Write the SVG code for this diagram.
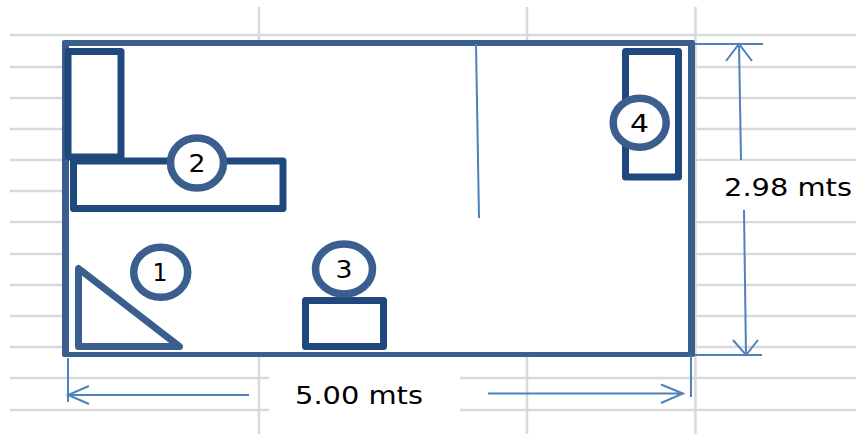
<svg xmlns="http://www.w3.org/2000/svg" width="856" height="434" viewBox="0 0 856 434">
<style>
.grid{stroke:#d9d9d9;stroke-width:2.5;fill:none}
.room{fill:#3a5f8f;fill-rule:evenodd}
.dark{fill:#fff;stroke:#1f497d;stroke-linejoin:round}
.badge{fill:#fff;stroke:#3a5f8f;stroke-width:7.500}
.dim{stroke:#4f81bd;stroke-width:2;fill:none}
.num{font-family:"DejaVu Sans",sans-serif;font-size:25px;fill:#000;text-anchor:middle}
.lbl{font-family:"DejaVu Sans",sans-serif;font-size:25px;fill:#000}
</style>
<rect width="856" height="434" fill="#fff"/>
<g id="grid">
<path class="grid" d="M10 35H856M10 67H856M10 98H856M10 129H856M10 160H856M10 191H856M10 222H856M10 254H856M10 285H856M10 316H856M10 347H856M10 378H856M10 410H856"/>
<path class="grid" d="M259 7V434M527 7V434M695.500 7V434"/>
<rect x="269" y="358" width="191" height="76" fill="#fff"/>
<rect x="697" y="161" width="159" height="60" fill="#fff"/>
</g>
<g id="room">
<rect x="69" y="45" width="619" height="307" fill="#fff"/>
<path class="room" d="M64 40H693Q695 40 695 42V355Q695 357 693 357H64Q62 357 62 355V42Q62 40 64 40ZM69 46V352H688V46Z"/>
</g>
<line id="partition" class="dim" x1="476" y1="44" x2="479" y2="218"/>
<g id="connectors">
<path class="dim" d="M695 44H763M695 355H762M68 358V402M691 355V397"/>
<path class="dim" d="M739 44L741 160M744 210L746 355M726 61L739 44L752 61M733 340L746 355L758 340"/>
<path class="dim" d="M68 395H249M89 386L68 395L89 404M488 393.500H683M661 384.500L683 393.500L661 403"/>
</g>
<g id="node-2-furniture">
<rect class="dark" x="73.500" y="161" width="209.500" height="47.500" stroke-width="7"/>
<rect class="dark" x="68" y="51.500" width="53" height="105.500" stroke-width="7"/>
</g>
<g id="node-2">
<ellipse class="badge" cx="197" cy="163" rx="26.500" ry="25"/>
<text class="num" x="197" y="172" textLength="17" lengthAdjust="spacingAndGlyphs">2</text>
</g>
<g id="node-1">
<path d="M78.500 268.500V346.500H179.500Z" fill="#fff" stroke="#3a5f8f" stroke-width="7" stroke-linejoin="round"/>
<ellipse class="badge" cx="160.700" cy="272.300" rx="27" ry="25"/>
<text class="num" x="160" y="281" textLength="15" lengthAdjust="spacingAndGlyphs">1</text>
</g>
<g id="node-3">
<rect class="dark" x="305.500" y="300.500" width="78" height="46" stroke-width="7"/>
<ellipse class="badge" cx="344" cy="269" rx="28.500" ry="25"/>
<text class="num" x="344" y="278" textLength="17" lengthAdjust="spacingAndGlyphs">3</text>
</g>
<g id="node-4">
<rect class="dark" x="625.500" y="51.500" width="53" height="125.500" stroke-width="7"/>
<ellipse class="badge" cx="639.700" cy="122.700" rx="26.500" ry="24.500"/>
<text class="num" x="639.500" y="132" textLength="19" lengthAdjust="spacingAndGlyphs">4</text>
</g>
<g id="labels">
<text class="lbl" x="295" y="404" textLength="128" lengthAdjust="spacingAndGlyphs">5.00 mts</text>
<text class="lbl" x="724" y="196" textLength="128" lengthAdjust="spacingAndGlyphs">2.98 mts</text>
</g>
</svg>
